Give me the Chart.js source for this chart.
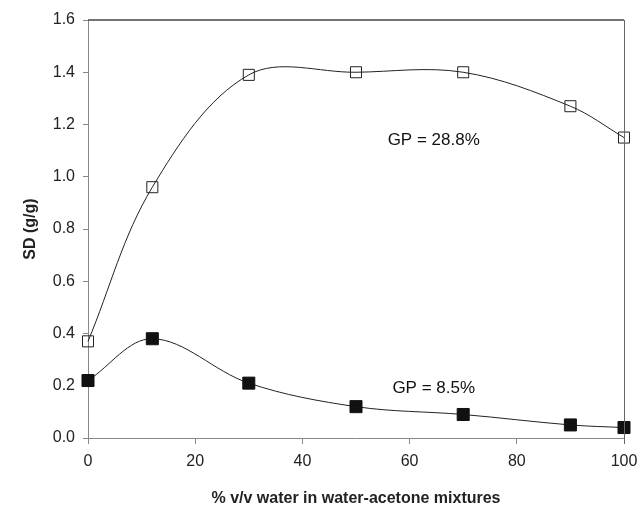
<!DOCTYPE html>
<html>
<head>
<meta charset="utf-8">
<script src="https://cdn.jsdelivr.net/npm/chart.js@4"></script>
<style>
  html, body { margin: 0; padding: 0; background: #fff; }
  #wrap { width: 640px; height: 508px; }
</style>
</head>
<body>
<div id="wrap"><canvas id="chart" width="640" height="508"></canvas></div>
<script>
// Values
const waterPercent = [0, 12, 30, 50, 70, 90, 100];
const sdOpen = [0.37, 0.96, 1.39, 1.40, 1.40, 1.27, 1.15];   // GP = 28.8%
const sdFilled = [0.22, 0.38, 0.21, 0.12, 0.09, 0.05, 0.04]; // GP = 8.5%
const yTicks = [0, 0.2, 0.4, 0.6, 0.8, 1.0, 1.2, 1.4, 1.6];
const xTicks = [0, 20, 40, 60, 80, 100];
const notes = [
  { text: 'GP = 28.8%', x: 64.5, y: 1.14 },
  { text: 'GP = 8.5%', x: 64.5, y: 0.19 }
];

const toPoints = (xs, ys) => xs.map((x, i) => ({ x: x, y: ys[i] }));

// top and right frame lines plus the GP labels
const framePlugin = {
  id: 'frame',
  afterDraw(chart) {
    const { ctx, chartArea: a, scales } = chart;
    ctx.save();
    ctx.strokeStyle = '#444';
    ctx.lineWidth = 1.5;
    ctx.beginPath();
    ctx.moveTo(a.left, a.top);
    ctx.lineTo(a.right, a.top);
    ctx.stroke();
    ctx.strokeStyle = '#666';
    ctx.lineWidth = 1;
    ctx.beginPath();
    ctx.moveTo(a.right + 0.5, a.top);
    ctx.lineTo(a.right + 0.5, a.bottom + 6);
    ctx.stroke();

    ctx.fillStyle = '#111';
    ctx.font = '17px "Liberation Sans", Arial, sans-serif';
    ctx.textAlign = 'center';
    ctx.textBaseline = 'middle';
    notes.forEach(n => {
      ctx.fillText(n.text, scales.x.getPixelForValue(n.x), scales.y.getPixelForValue(n.y));
    });
    ctx.restore();
  }
};

new Chart(document.getElementById('chart'), {
  type: 'scatter',
  data: {
    datasets: [
      {
        data: toPoints(waterPercent, sdOpen),
        showLine: true,
        tension: 0.35,
        clip: false,
        borderColor: '#222',
        borderWidth: 1,
        pointStyle: 'rect',
        pointRadius: 7.8,
        pointBorderWidth: 1,
        pointBorderColor: '#222',
        pointBackgroundColor: 'rgba(255,255,255,0)'
      },
      {
        data: toPoints(waterPercent, sdFilled),
        showLine: true,
        tension: 0.35,
        clip: false,
        borderColor: '#222',
        borderWidth: 1,
        pointStyle: 'rect',
        pointRadius: 8.5,
        pointBorderWidth: 1,
        pointBorderColor: '#111',
        pointBackgroundColor: '#111'
      }
    ]
  },
  options: {
    responsive: false,
    animation: false,
    layout: { padding: { top: 20, right: 16, left: 0, bottom: 0 } },
    plugins: {
      legend: { display: false },
      tooltip: { enabled: false }
    },
    scales: {
      x: {
        type: 'linear',
        min: 0,
        max: 100,
        afterFit: s => { s.height = 70; s.paddingLeft = 0; s.paddingRight = 0; },
        afterBuildTicks: s => { s.ticks = xTicks.map(v => ({ value: v })); },
        grid: { drawOnChartArea: false, tickLength: 6, color: '#888' },
        border: { color: '#888', width: 1 },
        ticks: {
          padding: 8,
          color: '#222',
          font: { family: '"Liberation Sans", Arial, sans-serif', size: 16 }
        },
        title: {
          display: true,
          text: '% v/v water in water-acetone mixtures',
          color: '#222',
          padding: { top: 0, bottom: 0 },
          font: { family: '"Liberation Sans", Arial, sans-serif', size: 16, weight: 'bold' }
        }
      },
      y: {
        min: 0,
        max: 1.6,
        afterFit: s => { s.width = 88; s.paddingTop = 0; s.paddingBottom = 0; },
        afterBuildTicks: s => { s.ticks = yTicks.map(v => ({ value: v })); },
        grid: { drawOnChartArea: false, tickLength: 5, color: '#888' },
        border: { color: '#888', width: 1 },
        ticks: {
          padding: 8,
          color: '#222',
          font: { family: '"Liberation Sans", Arial, sans-serif', size: 16 },
          callback: v => v.toFixed(1)
        },
        title: {
          display: true,
          text: 'SD (g/g)',
          color: '#222',
          padding: { top: 21, bottom: 0 },
          font: { family: '"Liberation Sans", Arial, sans-serif', size: 16, weight: 'bold' }
        }
      }
    }
  },
  plugins: [framePlugin]
});
</script>
</body>
</html>
